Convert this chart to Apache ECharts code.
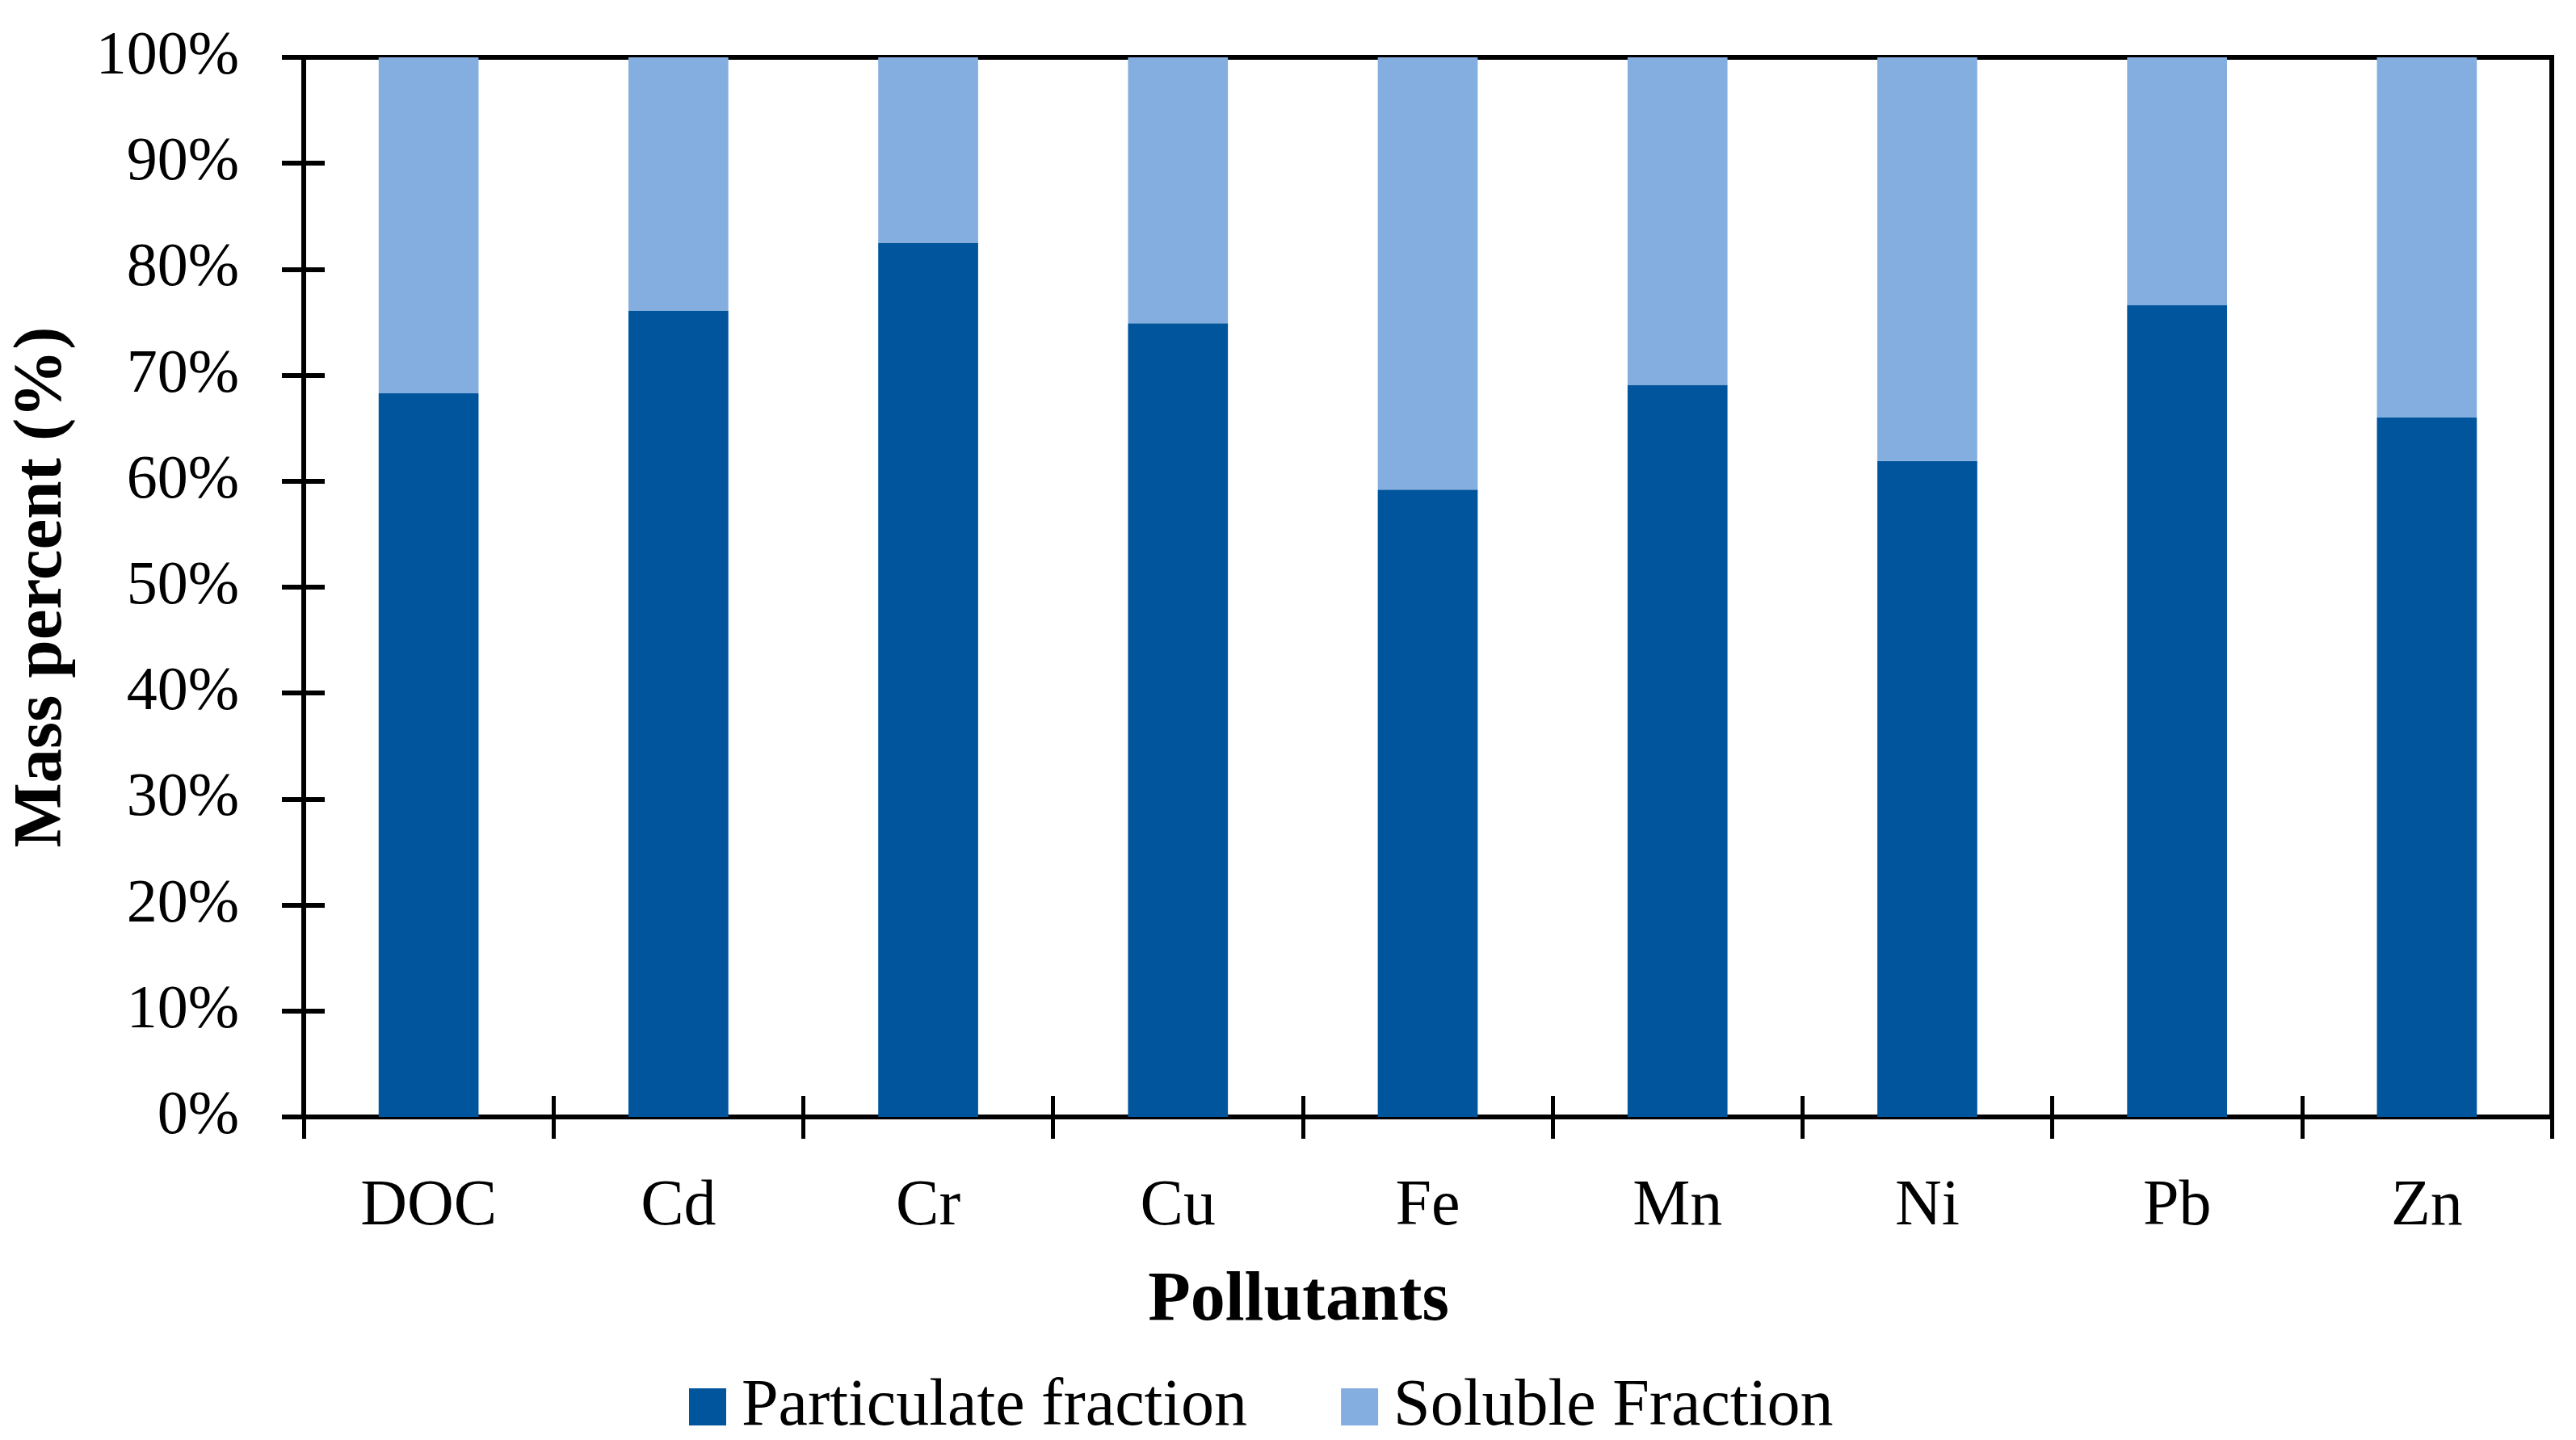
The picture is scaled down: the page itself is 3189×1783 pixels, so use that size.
<!DOCTYPE html>
<html>
<head>
<meta charset="utf-8">
<script src="https://cdn.jsdelivr.net/npm/echarts@6/dist/echarts.min.js"></script>
<style>
  html, body { margin: 0; padding: 0; background: #fff; }
  #chart { width: 3189px; height: 1783px; }
</style>
</head>
<body>
<div id="chart"></div>
<script>
// pollutants on the x axis
const categories = ["DOC", "Cd", "Cr", "Cu", "Fe", "Mn", "Ni", "Pb", "Zn"];
// mass percent
const particulate = [68.3, 76.1, 82.5, 74.9, 59.2, 69.1, 61.9, 76.6, 66.0];
const soluble = [31.7, 23.9, 17.5, 25.1, 40.8, 30.9, 38.1, 23.4, 34.0];

const FONT = "'Palatino Linotype', 'Book Antiqua', Palatino, 'Liberation Serif', serif";
const chart = echarts.init(document.getElementById("chart"));

const lineStyle = { color: "#000", width: 6 };

chart.setOption({
  animation: false,
  textStyle: { fontFamily: FONT, color: "#000" },
  grid: {
    left: 376,
    right: 30,
    top: 71,
    bottom: 400,
    outerBoundsMode: "none",
    containLabel: false,
    show: true,
    borderColor: "#000",
    borderWidth: 6,
  },
  legend: {
    left: 848,
    top: 1696,
    itemWidth: 46,
    itemHeight: 46,
    itemGap: 116,
    icon: "rect",
    textStyle: {
      fontFamily: FONT,
      fontSize: 82,
      color: "#000",
      padding: [0, 0, 0, 14],
    },
    data: ["Particulate fraction", "Soluble Fraction"],
  },
  xAxis: [
    {
      type: "category",
      data: categories,
      name: "Pollutants",
      nameLocation: "middle",
      nameGap: 186,
      // the title sits a bit left of the plot centre in the original
      nameTextStyle: {
        fontFamily: FONT,
        fontSize: 86,
        fontWeight: "bold",
        color: "#000",
        padding: [0, 320, 0, 0],
      },
      axisLine: { lineStyle: lineStyle },
      axisTick: { show: true, length: 27, lineStyle: { color: "#000", width: 5 } },
      axisLabel: { fontFamily: FONT, fontSize: 80, color: "#000", margin: 72 },
      splitLine: { show: false },
    },
    {
      // second copy of the axis only to draw ticks on the inner side
      type: "category",
      data: categories,
      position: "bottom",
      axisLine: { show: false },
      axisTick: { show: true, inside: true, length: 26, lineStyle: { color: "#000", width: 5 } },
      axisLabel: { show: false },
    },
  ],
  yAxis: [
    {
      type: "value",
      min: 0,
      max: 100,
      interval: 10,
      name: "Mass percent (%)",
      nameLocation: "middle",
      nameGap: 280,
      nameTextStyle: { fontFamily: FONT, fontSize: 85, fontWeight: "bold", color: "#000" },
      axisLine: { show: true, lineStyle: lineStyle },
      axisTick: { show: true, length: 27, lineStyle: { color: "#000", width: 6 } },
      axisLabel: { fontFamily: FONT, fontSize: 76, color: "#000", margin: 80, formatter: "{value}%" },
      splitLine: { show: false },
    },
    {
      type: "value",
      min: 0,
      max: 100,
      interval: 10,
      position: "left",
      axisLine: { show: false },
      axisTick: { show: true, inside: true, length: 26, lineStyle: { color: "#000", width: 6 } },
      axisLabel: { show: false },
      splitLine: { show: false },
    },
  ],
  series: [
    {
      name: "Particulate fraction",
      type: "bar",
      stack: "total",
      barWidth: "40%",
      itemStyle: { color: "#01559D" },
      data: particulate,
    },
    {
      name: "Soluble Fraction",
      type: "bar",
      stack: "total",
      barWidth: "40%",
      itemStyle: { color: "#85AEE0" },
      data: soluble,
    },
  ],
});
</script>
</body>
</html>
